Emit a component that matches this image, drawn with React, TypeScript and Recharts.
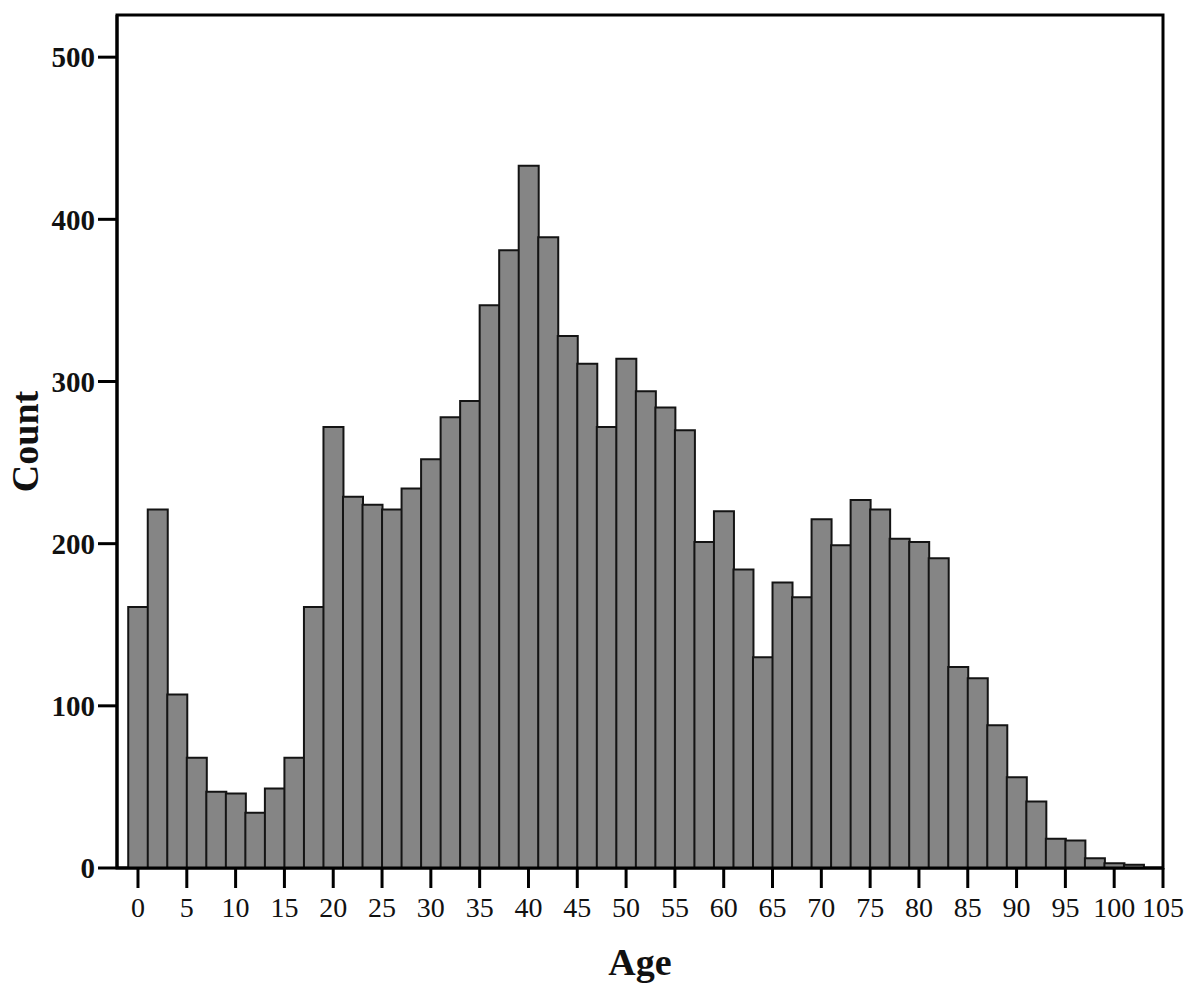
import React from 'react';
import { ComposedChart, Bar, XAxis, YAxis, ReferenceArea } from 'recharts';

const ages = [0, 2, 4, 6, 8, 10, 12, 14, 16, 18, 20, 22, 24, 26, 28, 30, 32, 34, 36, 38, 40, 42, 44, 46, 48, 50, 52, 54, 56, 58, 60, 62, 64, 66, 68, 70, 72, 74, 76, 78, 80, 82, 84, 86, 88, 90, 92, 94, 96, 98, 100, 102, 104];
const counts = [161, 221, 107, 68, 47, 46, 34, 49, 68, 161, 272, 229, 224, 221, 234, 252, 278, 288, 347, 381, 433, 389, 328, 311, 272, 314, 294, 284, 270, 201, 220, 184, 130, 176, 167, 215, 199, 227, 221, 203, 201, 191, 124, 117, 88, 56, 41, 18, 17, 6, 3, 2, 0];
const xTicks = [0, 5, 10, 15, 20, 25, 30, 35, 40, 45, 50, 55, 60, 65, 70, 75, 80, 85, 90, 95, 100, 105];
const yTicks = [0, 100, 200, 300, 400, 500];
const xDomain = [-2.15, 105];
const yDomain = [0, 526];

const data = ages.map((a, i) => ({ age: a, count: counts[i] }));

const FONT = '"Liberation Serif", "Times New Roman", serif';

export default function App() {
  return (
    <div style={{ position: 'absolute', left: 0, top: 0, background: '#fff' }}>
      <ComposedChart
        width={1189}
        height={998}
        data={data}
        margin={{ top: 15, right: 26, bottom: 0, left: 0 }}
        barCategoryGap={0}
        barGap={0}
      >
        <XAxis
          dataKey="age"
          type="number"
          domain={xDomain}
          allowDataOverflow
          ticks={xTicks}
          interval={0}
          height={130}
          tickSize={20}
          tickMargin={9}
          axisLine={{ stroke: '#000', strokeWidth: 3 }}
          tickLine={{ stroke: '#000', strokeWidth: 3 }}
          tick={{ fill: '#111', fontFamily: FONT, fontSize: 28 }}
          label={{ value: 'Age', position: 'insideBottom', offset: 23, fill: '#111', fontFamily: FONT, fontSize: 38, fontWeight: 'bold' }}
        />
        <YAxis
          type="number"
          domain={yDomain}
          allowDataOverflow
          ticks={yTicks}
          interval={0}
          width={117}
          tickSize={19}
          tickMargin={3}
          axisLine={{ stroke: '#000', strokeWidth: 3 }}
          tickLine={{ stroke: '#000', strokeWidth: 3 }}
          tick={{ fill: '#111', fontFamily: FONT, fontSize: 29, fontWeight: 'bold' }}
          label={{ value: 'Count', angle: -90, position: 'insideLeft', offset: 25, fill: '#111', fontFamily: FONT, fontSize: 38, fontWeight: 'bold', style: { textAnchor: 'middle' } }}
        />
        <Bar dataKey="count" fill="#858585" stroke="#141414" strokeWidth={2} isAnimationActive={false} />
        <ReferenceArea x1={xDomain[0]} x2={xDomain[1]} y1={yDomain[0]} y2={yDomain[1]} fill="none" stroke="#000" strokeWidth={3} fillOpacity={0} ifOverflow="visible" />
      </ComposedChart>
    </div>
  );
}
